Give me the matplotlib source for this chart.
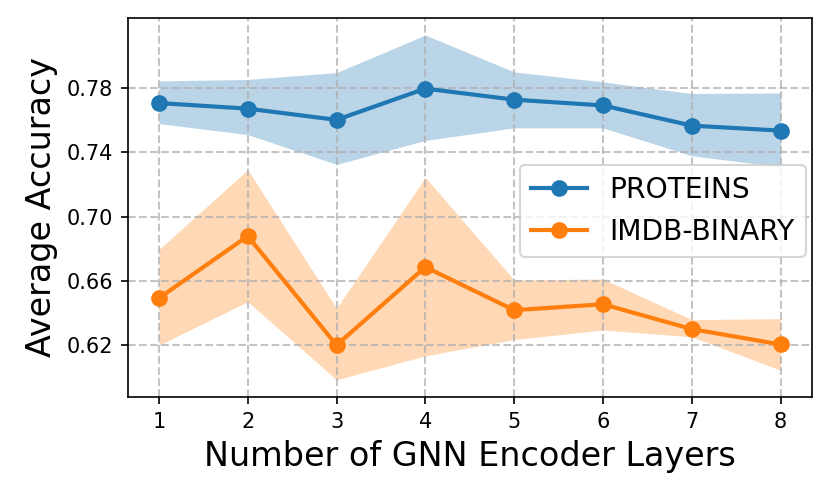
import matplotlib
matplotlib.use("Agg")
import matplotlib.pyplot as plt
import numpy as np

# number of encoder layers
layers = [1, 2, 3, 4, 5, 6, 7, 8]

# PROTEINS: mean and band
proteins_mean = [0.7708, 0.7673, 0.7603, 0.7798, 0.7729, 0.7693, 0.7567, 0.7536]
proteins_hi = [0.7846, 0.7855, 0.7898, 0.8132, 0.7902, 0.7840, 0.7767, 0.7771]
proteins_lo = [0.7580, 0.7511, 0.7325, 0.7475, 0.7553, 0.7553, 0.7379, 0.7310]

# IMDB-BINARY: mean and band
imdb_mean = [0.6491, 0.6878, 0.6198, 0.6685, 0.6416, 0.6453, 0.6298, 0.6202]
imdb_hi = [0.6794, 0.7292, 0.6428, 0.7244, 0.6604, 0.6610, 0.6357, 0.6363]
imdb_lo = [0.6198, 0.6469, 0.5982, 0.6131, 0.6233, 0.6292, 0.6250, 0.6041]

fig = plt.figure(figsize=(8.3 / 1.5, 4.95 / 1.5), dpi=150)
ax = fig.add_axes([0.154, 0.198, 0.824, 0.766])

ax.plot(layers, proteins_mean, marker='o', ms=7, lw=2, color='#1f77b4', label='PROTEINS')
ax.fill_between(layers, proteins_lo, proteins_hi, color='#1f77b4', alpha=0.3, lw=0)
ax.plot(layers, imdb_mean, marker='o', ms=7, lw=2, color='#ff7f0e', label='IMDB-BINARY')
ax.fill_between(layers, imdb_lo, imdb_hi, color='#ff7f0e', alpha=0.3, lw=0)

ax.set_xticks(layers)
ax.set_yticks([0.62, 0.66, 0.70, 0.74, 0.78])
ax.set_yticklabels(['0.62', '0.66', '0.70', '0.74', '0.78'])
ax.tick_params(labelsize=10)
ax.grid(True, linestyle='--', color='#b0b0b0', alpha=0.75, lw=1)

ax.set_xlabel('Number of GNN Encoder Layers', fontsize=16)
ax.set_ylabel('Average Accuracy', fontsize=16)
ax.legend(loc='center right', bbox_to_anchor=(1.0, 0.491), borderaxespad=0.2, fontsize=13.5)

fig.savefig('out.png', dpi=150)
